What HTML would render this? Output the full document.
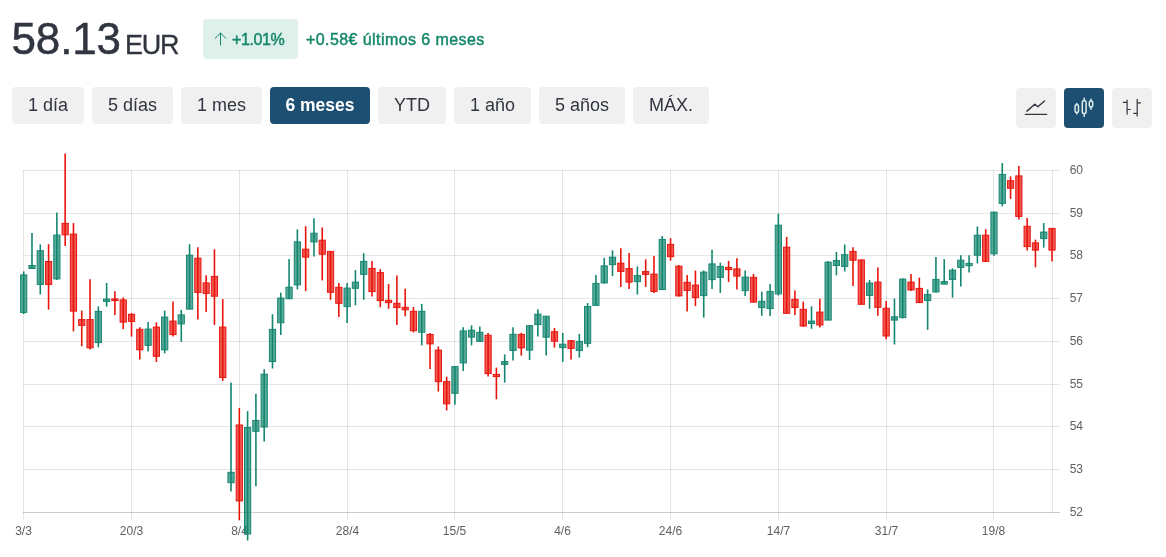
<!DOCTYPE html>
<html lang="es">
<head>
<meta charset="utf-8">
<title>58.13 EUR</title>
<style>
html,body{margin:0;padding:0;background:#fff;}
body{width:1166px;height:557px;position:relative;overflow:hidden;font-family:"Liberation Sans",Arial,sans-serif;color:#2f3540;}
#chart{position:absolute;left:0;top:0;}
.price{position:absolute;left:11.6px;top:14px;font-size:44px;line-height:50px;letter-spacing:-0.2px;color:#30353f;white-space:nowrap;-webkit-text-stroke:0.5px #30353f;}
.cur{position:absolute;left:125px;top:30px;font-size:27px;line-height:30px;letter-spacing:-1.2px;color:#30353f;-webkit-text-stroke:0.3px #30353f;}
.badge{position:absolute;left:203px;top:19px;width:95px;height:40px;border-radius:4px;background:#dff0eb;color:#15876a;font-size:16px;line-height:42px;-webkit-text-stroke:0.45px #15876a;}
.badge span{position:absolute;left:29px;top:0;letter-spacing:-0.4px;}
.badge svg{position:absolute;left:11px;top:13px;}
.delta{position:absolute;left:306px;top:19px;font-size:16px;line-height:42px;letter-spacing:0.42px;color:#15876a;white-space:nowrap;-webkit-text-stroke:0.45px #15876a;}
.btn{position:absolute;top:87px;height:37px;border-radius:4px;background:#f0f0f0;color:#30353f;font-size:18px;line-height:37px;text-align:center;white-space:nowrap;}
.btn.on{background:#1d4f73;color:#fff;font-weight:bold;font-size:17.5px;}
.ib{position:absolute;top:88px;width:40px;height:40px;border-radius:4px;background:#f0f0f0;}
.ib.on{background:#1d4f73;}
</style>
</head>
<body>
<svg id="chart" width="1166" height="557" viewBox="0 0 1166 557">
<g stroke="rgba(0,0,0,0.1)" stroke-width="1" fill="none" shape-rendering="crispEdges">
<line x1="23" y1="170.5" x2="1060" y2="170.5"/>
<line x1="23" y1="213.5" x2="1060" y2="213.5"/>
<line x1="23" y1="255.5" x2="1060" y2="255.5"/>
<line x1="23" y1="298.5" x2="1060" y2="298.5"/>
<line x1="23" y1="341.5" x2="1060" y2="341.5"/>
<line x1="23" y1="384.5" x2="1060" y2="384.5"/>
<line x1="23" y1="426.5" x2="1060" y2="426.5"/>
<line x1="23" y1="469.5" x2="1060" y2="469.5"/>
<line x1="23.5" y1="170" x2="23.5" y2="520"/>
<line x1="131.5" y1="170" x2="131.5" y2="520"/>
<line x1="239.5" y1="170" x2="239.5" y2="520"/>
<line x1="347.5" y1="170" x2="347.5" y2="520"/>
<line x1="454.5" y1="170" x2="454.5" y2="520"/>
<line x1="562.5" y1="170" x2="562.5" y2="520"/>
<line x1="670.5" y1="170" x2="670.5" y2="520"/>
<line x1="778.5" y1="170" x2="778.5" y2="520"/>
<line x1="886.5" y1="170" x2="886.5" y2="520"/>
<line x1="993.5" y1="170" x2="993.5" y2="520"/>
<line x1="1052.5" y1="170" x2="1052.5" y2="513"/>
</g>
<line x1="23" y1="512.5" x2="1060" y2="512.5" stroke="rgba(0,0,0,0.2)" stroke-width="1" shape-rendering="crispEdges"/>
<g font-family="'Liberation Sans', Arial, sans-serif" font-size="12" fill="#606060">
<text x="23.5" y="534.8" text-anchor="middle">3/3</text>
<text x="131.5" y="534.8" text-anchor="middle">20/3</text>
<text x="239.5" y="534.8" text-anchor="middle">8/4</text>
<text x="347.5" y="534.8" text-anchor="middle">28/4</text>
<text x="454.5" y="534.8" text-anchor="middle">15/5</text>
<text x="562.5" y="534.8" text-anchor="middle">4/6</text>
<text x="670.5" y="534.8" text-anchor="middle">24/6</text>
<text x="778.5" y="534.8" text-anchor="middle">14/7</text>
<text x="886.5" y="534.8" text-anchor="middle">31/7</text>
<text x="993.5" y="534.8" text-anchor="middle">19/8</text>
<text x="1069.7" y="174.1">60</text>
<text x="1069.7" y="217.1">59</text>
<text x="1069.7" y="259.1">58</text>
<text x="1069.7" y="302.1">57</text>
<text x="1069.7" y="345.1">56</text>
<text x="1069.7" y="388.1">55</text>
<text x="1069.7" y="430.1">54</text>
<text x="1069.7" y="473.1">53</text>
<text x="1069.7" y="516.1">52</text>
</g>
<line x1="23.70" y1="271.4" x2="23.70" y2="314.1" stroke="#148670" stroke-width="1.6"/>
<rect x="20.60" y="274.9" width="6.2" height="37.5" fill="rgba(20,134,112,0.71)" stroke="#148670" stroke-width="1"/>
<line x1="31.99" y1="233.1" x2="31.99" y2="268.5" stroke="#148670" stroke-width="1.6"/>
<rect x="28.89" y="265.5" width="6.2" height="3.0" fill="rgba(20,134,112,0.71)" stroke="#148670" stroke-width="1"/>
<line x1="40.29" y1="244.4" x2="40.29" y2="294.4" stroke="#148670" stroke-width="1.6"/>
<rect x="37.19" y="250.7" width="6.2" height="33.7" fill="rgba(20,134,112,0.71)" stroke="#148670" stroke-width="1"/>
<line x1="48.58" y1="244.2" x2="48.58" y2="309.6" stroke="#e8140c" stroke-width="1.6"/>
<rect x="45.48" y="261.5" width="6.2" height="22.9" fill="rgba(232,20,12,0.7)" stroke="#e8140c" stroke-width="1"/>
<line x1="56.87" y1="212.4" x2="56.87" y2="279.9" stroke="#148670" stroke-width="1.6"/>
<rect x="53.77" y="235.1" width="6.2" height="43.8" fill="rgba(20,134,112,0.71)" stroke="#148670" stroke-width="1"/>
<line x1="65.16" y1="153.5" x2="65.16" y2="246.1" stroke="#e8140c" stroke-width="1.6"/>
<rect x="62.06" y="223.4" width="6.2" height="11.4" fill="rgba(232,20,12,0.7)" stroke="#e8140c" stroke-width="1"/>
<line x1="73.46" y1="223.1" x2="73.46" y2="331.3" stroke="#e8140c" stroke-width="1.6"/>
<rect x="70.36" y="234.1" width="6.2" height="77.0" fill="rgba(232,20,12,0.7)" stroke="#e8140c" stroke-width="1"/>
<line x1="81.75" y1="310.6" x2="81.75" y2="346.3" stroke="#e8140c" stroke-width="1.6"/>
<rect x="78.65" y="319.6" width="6.2" height="5.8" fill="rgba(232,20,12,0.7)" stroke="#e8140c" stroke-width="1"/>
<line x1="90.04" y1="279.2" x2="90.04" y2="349.6" stroke="#e8140c" stroke-width="1.6"/>
<rect x="86.94" y="319.6" width="6.2" height="28.2" fill="rgba(232,20,12,0.7)" stroke="#e8140c" stroke-width="1"/>
<line x1="98.34" y1="306.4" x2="98.34" y2="347.3" stroke="#148670" stroke-width="1.6"/>
<rect x="95.24" y="311.4" width="6.2" height="31.2" fill="rgba(20,134,112,0.71)" stroke="#148670" stroke-width="1"/>
<line x1="106.63" y1="282.9" x2="106.63" y2="306.6" stroke="#148670" stroke-width="1.6"/>
<rect x="103.53" y="299.1" width="6.2" height="2.3" fill="rgba(20,134,112,0.71)" stroke="#148670" stroke-width="1"/>
<line x1="114.92" y1="291.2" x2="114.92" y2="314.9" stroke="#e8140c" stroke-width="1.6"/>
<rect x="111.82" y="298.9" width="6.2" height="1.7" fill="rgba(232,20,12,0.7)" stroke="#e8140c" stroke-width="1"/>
<line x1="123.22" y1="297.4" x2="123.22" y2="329.1" stroke="#e8140c" stroke-width="1.6"/>
<rect x="120.12" y="299.9" width="6.2" height="22.2" fill="rgba(232,20,12,0.7)" stroke="#e8140c" stroke-width="1"/>
<line x1="131.51" y1="312.9" x2="131.51" y2="336.6" stroke="#e8140c" stroke-width="1.6"/>
<rect x="128.41" y="314.4" width="6.2" height="7.0" fill="rgba(232,20,12,0.7)" stroke="#e8140c" stroke-width="1"/>
<line x1="139.80" y1="327.3" x2="139.80" y2="359.5" stroke="#e8140c" stroke-width="1.6"/>
<rect x="136.70" y="329.3" width="6.2" height="20.5" fill="rgba(232,20,12,0.7)" stroke="#e8140c" stroke-width="1"/>
<line x1="148.09" y1="321.9" x2="148.09" y2="351.6" stroke="#148670" stroke-width="1.6"/>
<rect x="144.99" y="329.1" width="6.2" height="16.2" fill="rgba(20,134,112,0.71)" stroke="#148670" stroke-width="1"/>
<line x1="156.39" y1="322.4" x2="156.39" y2="362.0" stroke="#e8140c" stroke-width="1.6"/>
<rect x="153.29" y="327.1" width="6.2" height="29.2" fill="rgba(232,20,12,0.7)" stroke="#e8140c" stroke-width="1"/>
<line x1="164.68" y1="310.6" x2="164.68" y2="353.3" stroke="#148670" stroke-width="1.6"/>
<rect x="161.58" y="317.1" width="6.2" height="32.7" fill="rgba(20,134,112,0.71)" stroke="#148670" stroke-width="1"/>
<line x1="172.97" y1="301.6" x2="172.97" y2="336.6" stroke="#e8140c" stroke-width="1.6"/>
<rect x="169.87" y="321.1" width="6.2" height="13.5" fill="rgba(232,20,12,0.7)" stroke="#e8140c" stroke-width="1"/>
<line x1="181.27" y1="309.9" x2="181.27" y2="341.8" stroke="#148670" stroke-width="1.6"/>
<rect x="178.17" y="314.9" width="6.2" height="9.0" fill="rgba(20,134,112,0.71)" stroke="#148670" stroke-width="1"/>
<line x1="189.56" y1="244.2" x2="189.56" y2="309.1" stroke="#148670" stroke-width="1.6"/>
<rect x="186.46" y="255.2" width="6.2" height="53.9" fill="rgba(20,134,112,0.71)" stroke="#148670" stroke-width="1"/>
<line x1="197.85" y1="247.2" x2="197.85" y2="319.6" stroke="#e8140c" stroke-width="1.6"/>
<rect x="194.75" y="258.2" width="6.2" height="34.2" fill="rgba(232,20,12,0.7)" stroke="#e8140c" stroke-width="1"/>
<line x1="206.15" y1="275.2" x2="206.15" y2="312.1" stroke="#e8140c" stroke-width="1.6"/>
<rect x="203.05" y="282.9" width="6.2" height="10.5" fill="rgba(232,20,12,0.7)" stroke="#e8140c" stroke-width="1"/>
<line x1="214.44" y1="249.2" x2="214.44" y2="324.9" stroke="#e8140c" stroke-width="1.6"/>
<rect x="211.34" y="276.4" width="6.2" height="19.8" fill="rgba(232,20,12,0.7)" stroke="#e8140c" stroke-width="1"/>
<line x1="222.73" y1="299.1" x2="222.73" y2="380.9" stroke="#e8140c" stroke-width="1.6"/>
<rect x="219.63" y="327.1" width="6.2" height="50.4" fill="rgba(232,20,12,0.7)" stroke="#e8140c" stroke-width="1"/>
<line x1="231.02" y1="382.4" x2="231.02" y2="491.6" stroke="#148670" stroke-width="1.6"/>
<rect x="227.92" y="472.3" width="6.2" height="10.4" fill="rgba(20,134,112,0.71)" stroke="#148670" stroke-width="1"/>
<line x1="239.32" y1="408.1" x2="239.32" y2="520.3" stroke="#e8140c" stroke-width="1.6"/>
<rect x="236.22" y="425.0" width="6.2" height="75.9" fill="rgba(232,20,12,0.7)" stroke="#e8140c" stroke-width="1"/>
<line x1="247.61" y1="411.1" x2="247.61" y2="540.5" stroke="#148670" stroke-width="1.6"/>
<rect x="244.51" y="427.5" width="6.2" height="106.5" fill="rgba(20,134,112,0.71)" stroke="#148670" stroke-width="1"/>
<line x1="255.90" y1="393.7" x2="255.90" y2="486.3" stroke="#148670" stroke-width="1.6"/>
<rect x="252.80" y="420.4" width="6.2" height="10.9" fill="rgba(20,134,112,0.71)" stroke="#148670" stroke-width="1"/>
<line x1="264.20" y1="369.2" x2="264.20" y2="441.6" stroke="#148670" stroke-width="1.6"/>
<rect x="261.10" y="374.2" width="6.2" height="52.8" fill="rgba(20,134,112,0.71)" stroke="#148670" stroke-width="1"/>
<line x1="272.49" y1="314.2" x2="272.49" y2="368.5" stroke="#148670" stroke-width="1.6"/>
<rect x="269.39" y="329.4" width="6.2" height="32.1" fill="rgba(20,134,112,0.71)" stroke="#148670" stroke-width="1"/>
<line x1="280.78" y1="292.6" x2="280.78" y2="335.0" stroke="#148670" stroke-width="1.6"/>
<rect x="277.68" y="298.0" width="6.2" height="24.8" fill="rgba(20,134,112,0.71)" stroke="#148670" stroke-width="1"/>
<line x1="289.08" y1="259.1" x2="289.08" y2="299.3" stroke="#148670" stroke-width="1.6"/>
<rect x="285.98" y="287.2" width="6.2" height="11.5" fill="rgba(20,134,112,0.71)" stroke="#148670" stroke-width="1"/>
<line x1="297.37" y1="229.4" x2="297.37" y2="289.3" stroke="#148670" stroke-width="1.6"/>
<rect x="294.27" y="241.9" width="6.2" height="43.0" fill="rgba(20,134,112,0.71)" stroke="#148670" stroke-width="1"/>
<line x1="305.66" y1="226.2" x2="305.66" y2="291.1" stroke="#e8140c" stroke-width="1.6"/>
<rect x="302.56" y="249.2" width="6.2" height="7.9" fill="rgba(232,20,12,0.7)" stroke="#e8140c" stroke-width="1"/>
<line x1="313.95" y1="218.2" x2="313.95" y2="256.4" stroke="#148670" stroke-width="1.6"/>
<rect x="310.85" y="233.2" width="6.2" height="8.7" fill="rgba(20,134,112,0.71)" stroke="#148670" stroke-width="1"/>
<line x1="322.25" y1="227.5" x2="322.25" y2="280.4" stroke="#e8140c" stroke-width="1.6"/>
<rect x="319.15" y="240.2" width="6.2" height="14.0" fill="rgba(232,20,12,0.7)" stroke="#e8140c" stroke-width="1"/>
<line x1="330.54" y1="251.4" x2="330.54" y2="299.8" stroke="#e8140c" stroke-width="1.6"/>
<rect x="327.44" y="251.4" width="6.2" height="40.9" fill="rgba(232,20,12,0.7)" stroke="#e8140c" stroke-width="1"/>
<line x1="338.83" y1="283.1" x2="338.83" y2="317.0" stroke="#e8140c" stroke-width="1.6"/>
<rect x="335.73" y="287.3" width="6.2" height="16.0" fill="rgba(232,20,12,0.7)" stroke="#e8140c" stroke-width="1"/>
<line x1="347.13" y1="282.9" x2="347.13" y2="323.0" stroke="#148670" stroke-width="1.6"/>
<rect x="344.03" y="288.1" width="6.2" height="18.5" fill="rgba(20,134,112,0.71)" stroke="#148670" stroke-width="1"/>
<line x1="355.42" y1="270.1" x2="355.42" y2="305.3" stroke="#148670" stroke-width="1.6"/>
<rect x="352.32" y="282.1" width="6.2" height="6.2" fill="rgba(20,134,112,0.71)" stroke="#148670" stroke-width="1"/>
<line x1="363.71" y1="253.2" x2="363.71" y2="299.8" stroke="#148670" stroke-width="1.6"/>
<rect x="360.61" y="261.4" width="6.2" height="13.0" fill="rgba(20,134,112,0.71)" stroke="#148670" stroke-width="1"/>
<line x1="372.01" y1="261.1" x2="372.01" y2="296.6" stroke="#e8140c" stroke-width="1.6"/>
<rect x="368.91" y="268.4" width="6.2" height="23.2" fill="rgba(232,20,12,0.7)" stroke="#e8140c" stroke-width="1"/>
<line x1="380.30" y1="269.1" x2="380.30" y2="307.3" stroke="#e8140c" stroke-width="1.6"/>
<rect x="377.20" y="272.6" width="6.2" height="28.0" fill="rgba(232,20,12,0.7)" stroke="#e8140c" stroke-width="1"/>
<line x1="388.59" y1="283.9" x2="388.59" y2="308.8" stroke="#e8140c" stroke-width="1.6"/>
<rect x="385.49" y="300.3" width="6.2" height="2.3" fill="rgba(232,20,12,0.7)" stroke="#e8140c" stroke-width="1"/>
<line x1="396.88" y1="275.4" x2="396.88" y2="325.0" stroke="#e8140c" stroke-width="1.6"/>
<rect x="393.78" y="303.3" width="6.2" height="4.3" fill="rgba(232,20,12,0.7)" stroke="#e8140c" stroke-width="1"/>
<line x1="405.18" y1="288.8" x2="405.18" y2="316.3" stroke="#e8140c" stroke-width="1.6"/>
<rect x="402.08" y="307.3" width="6.2" height="2.5" fill="rgba(232,20,12,0.7)" stroke="#e8140c" stroke-width="1"/>
<line x1="413.47" y1="306.9" x2="413.47" y2="332.4" stroke="#e8140c" stroke-width="1.6"/>
<rect x="410.37" y="311.3" width="6.2" height="19.4" fill="rgba(232,20,12,0.7)" stroke="#e8140c" stroke-width="1"/>
<line x1="421.76" y1="303.9" x2="421.76" y2="345.4" stroke="#148670" stroke-width="1.6"/>
<rect x="418.66" y="311.3" width="6.2" height="20.9" fill="rgba(20,134,112,0.71)" stroke="#148670" stroke-width="1"/>
<line x1="430.06" y1="333.0" x2="430.06" y2="368.9" stroke="#e8140c" stroke-width="1.6"/>
<rect x="426.96" y="334.5" width="6.2" height="9.4" fill="rgba(232,20,12,0.7)" stroke="#e8140c" stroke-width="1"/>
<line x1="438.35" y1="346.4" x2="438.35" y2="391.6" stroke="#e8140c" stroke-width="1.6"/>
<rect x="435.25" y="350.1" width="6.2" height="31.5" fill="rgba(232,20,12,0.7)" stroke="#e8140c" stroke-width="1"/>
<line x1="446.64" y1="376.6" x2="446.64" y2="410.5" stroke="#e8140c" stroke-width="1.6"/>
<rect x="443.54" y="381.6" width="6.2" height="22.2" fill="rgba(232,20,12,0.7)" stroke="#e8140c" stroke-width="1"/>
<line x1="454.94" y1="366.6" x2="454.94" y2="404.8" stroke="#148670" stroke-width="1.6"/>
<rect x="451.84" y="366.6" width="6.2" height="26.7" fill="rgba(20,134,112,0.71)" stroke="#148670" stroke-width="1"/>
<line x1="463.23" y1="327.2" x2="463.23" y2="371.1" stroke="#148670" stroke-width="1.6"/>
<rect x="460.13" y="330.9" width="6.2" height="32.0" fill="rgba(20,134,112,0.71)" stroke="#148670" stroke-width="1"/>
<line x1="471.52" y1="325.4" x2="471.52" y2="345.4" stroke="#148670" stroke-width="1.6"/>
<rect x="468.42" y="330.2" width="6.2" height="6.9" fill="rgba(20,134,112,0.71)" stroke="#148670" stroke-width="1"/>
<line x1="479.81" y1="326.4" x2="479.81" y2="341.4" stroke="#148670" stroke-width="1.6"/>
<rect x="476.71" y="332.3" width="6.2" height="9.1" fill="rgba(20,134,112,0.71)" stroke="#148670" stroke-width="1"/>
<line x1="488.11" y1="333.0" x2="488.11" y2="376.6" stroke="#e8140c" stroke-width="1.6"/>
<rect x="485.01" y="335.3" width="6.2" height="38.3" fill="rgba(232,20,12,0.7)" stroke="#e8140c" stroke-width="1"/>
<line x1="496.40" y1="367.6" x2="496.40" y2="399.3" stroke="#e8140c" stroke-width="1.6"/>
<rect x="493.30" y="374.4" width="6.2" height="2.2" fill="rgba(232,20,12,0.7)" stroke="#e8140c" stroke-width="1"/>
<line x1="504.69" y1="354.4" x2="504.69" y2="382.6" stroke="#148670" stroke-width="1.6"/>
<rect x="501.59" y="361.6" width="6.2" height="2.8" fill="rgba(20,134,112,0.71)" stroke="#148670" stroke-width="1"/>
<line x1="512.99" y1="327.2" x2="512.99" y2="360.6" stroke="#148670" stroke-width="1.6"/>
<rect x="509.89" y="334.3" width="6.2" height="16.1" fill="rgba(20,134,112,0.71)" stroke="#148670" stroke-width="1"/>
<line x1="521.28" y1="332.9" x2="521.28" y2="355.6" stroke="#e8140c" stroke-width="1.6"/>
<rect x="518.18" y="334.4" width="6.2" height="13.5" fill="rgba(232,20,12,0.7)" stroke="#e8140c" stroke-width="1"/>
<line x1="529.57" y1="325.7" x2="529.57" y2="359.9" stroke="#148670" stroke-width="1.6"/>
<rect x="526.47" y="325.7" width="6.2" height="24.4" fill="rgba(20,134,112,0.71)" stroke="#148670" stroke-width="1"/>
<line x1="537.87" y1="309.2" x2="537.87" y2="336.4" stroke="#148670" stroke-width="1.6"/>
<rect x="534.77" y="314.2" width="6.2" height="10.4" fill="rgba(20,134,112,0.71)" stroke="#148670" stroke-width="1"/>
<line x1="546.16" y1="316.2" x2="546.16" y2="355.6" stroke="#148670" stroke-width="1.6"/>
<rect x="543.06" y="316.2" width="6.2" height="21.0" fill="rgba(20,134,112,0.71)" stroke="#148670" stroke-width="1"/>
<line x1="554.45" y1="327.9" x2="554.45" y2="347.6" stroke="#e8140c" stroke-width="1.6"/>
<rect x="551.35" y="331.7" width="6.2" height="9.5" fill="rgba(232,20,12,0.7)" stroke="#e8140c" stroke-width="1"/>
<line x1="562.75" y1="332.9" x2="562.75" y2="361.9" stroke="#148670" stroke-width="1.6"/>
<rect x="559.64" y="344.2" width="6.2" height="3.4" fill="rgba(20,134,112,0.71)" stroke="#148670" stroke-width="1"/>
<line x1="571.04" y1="339.9" x2="571.04" y2="359.6" stroke="#e8140c" stroke-width="1.6"/>
<rect x="567.94" y="340.7" width="6.2" height="7.7" fill="rgba(232,20,12,0.7)" stroke="#e8140c" stroke-width="1"/>
<line x1="579.33" y1="333.9" x2="579.33" y2="357.6" stroke="#148670" stroke-width="1.6"/>
<rect x="576.23" y="341.4" width="6.2" height="9.0" fill="rgba(20,134,112,0.71)" stroke="#148670" stroke-width="1"/>
<line x1="587.62" y1="303.1" x2="587.62" y2="347.2" stroke="#148670" stroke-width="1.6"/>
<rect x="584.52" y="306.5" width="6.2" height="36.8" fill="rgba(20,134,112,0.71)" stroke="#148670" stroke-width="1"/>
<line x1="595.92" y1="275.1" x2="595.92" y2="305.4" stroke="#148670" stroke-width="1.6"/>
<rect x="592.82" y="283.4" width="6.2" height="22.0" fill="rgba(20,134,112,0.71)" stroke="#148670" stroke-width="1"/>
<line x1="604.21" y1="257.9" x2="604.21" y2="283.6" stroke="#148670" stroke-width="1.6"/>
<rect x="601.11" y="265.9" width="6.2" height="17.0" fill="rgba(20,134,112,0.71)" stroke="#148670" stroke-width="1"/>
<line x1="612.50" y1="250.4" x2="612.50" y2="276.1" stroke="#148670" stroke-width="1.6"/>
<rect x="609.40" y="257.2" width="6.2" height="7.5" fill="rgba(20,134,112,0.71)" stroke="#148670" stroke-width="1"/>
<line x1="620.80" y1="248.2" x2="620.80" y2="286.9" stroke="#e8140c" stroke-width="1.6"/>
<rect x="617.70" y="263.2" width="6.2" height="8.2" fill="rgba(232,20,12,0.7)" stroke="#e8140c" stroke-width="1"/>
<line x1="629.09" y1="252.9" x2="629.09" y2="288.9" stroke="#e8140c" stroke-width="1.6"/>
<rect x="625.99" y="268.6" width="6.2" height="13.5" fill="rgba(232,20,12,0.7)" stroke="#e8140c" stroke-width="1"/>
<line x1="637.38" y1="266.4" x2="637.38" y2="294.6" stroke="#148670" stroke-width="1.6"/>
<rect x="634.28" y="275.6" width="6.2" height="6.0" fill="rgba(20,134,112,0.71)" stroke="#148670" stroke-width="1"/>
<line x1="645.67" y1="259.4" x2="645.67" y2="286.9" stroke="#e8140c" stroke-width="1.6"/>
<rect x="642.57" y="271.6" width="6.2" height="2.8" fill="rgba(232,20,12,0.7)" stroke="#e8140c" stroke-width="1"/>
<line x1="653.97" y1="255.9" x2="653.97" y2="292.9" stroke="#e8140c" stroke-width="1.6"/>
<rect x="650.87" y="274.1" width="6.2" height="17.3" fill="rgba(232,20,12,0.7)" stroke="#e8140c" stroke-width="1"/>
<line x1="662.26" y1="236.0" x2="662.26" y2="289.6" stroke="#148670" stroke-width="1.6"/>
<rect x="659.16" y="239.4" width="6.2" height="50.2" fill="rgba(20,134,112,0.71)" stroke="#148670" stroke-width="1"/>
<line x1="670.55" y1="238.2" x2="670.55" y2="260.7" stroke="#e8140c" stroke-width="1.6"/>
<rect x="667.45" y="244.4" width="6.2" height="12.3" fill="rgba(232,20,12,0.7)" stroke="#e8140c" stroke-width="1"/>
<line x1="678.85" y1="264.9" x2="678.85" y2="296.4" stroke="#e8140c" stroke-width="1.6"/>
<rect x="675.75" y="266.2" width="6.2" height="29.7" fill="rgba(232,20,12,0.7)" stroke="#e8140c" stroke-width="1"/>
<line x1="687.14" y1="274.9" x2="687.14" y2="311.6" stroke="#e8140c" stroke-width="1.6"/>
<rect x="684.04" y="282.4" width="6.2" height="8.0" fill="rgba(232,20,12,0.7)" stroke="#e8140c" stroke-width="1"/>
<line x1="695.43" y1="270.6" x2="695.43" y2="306.1" stroke="#e8140c" stroke-width="1.6"/>
<rect x="692.33" y="285.1" width="6.2" height="12.5" fill="rgba(232,20,12,0.7)" stroke="#e8140c" stroke-width="1"/>
<line x1="703.73" y1="270.4" x2="703.73" y2="317.6" stroke="#148670" stroke-width="1.6"/>
<rect x="700.63" y="272.1" width="6.2" height="23.5" fill="rgba(20,134,112,0.71)" stroke="#148670" stroke-width="1"/>
<line x1="712.02" y1="249.7" x2="712.02" y2="288.9" stroke="#148670" stroke-width="1.6"/>
<rect x="708.92" y="263.9" width="6.2" height="15.7" fill="rgba(20,134,112,0.71)" stroke="#148670" stroke-width="1"/>
<line x1="720.31" y1="262.7" x2="720.31" y2="292.9" stroke="#148670" stroke-width="1.6"/>
<rect x="717.21" y="266.4" width="6.2" height="11.0" fill="rgba(20,134,112,0.71)" stroke="#148670" stroke-width="1"/>
<line x1="728.61" y1="260.9" x2="728.61" y2="281.9" stroke="#e8140c" stroke-width="1.6"/>
<rect x="725.50" y="267.4" width="6.2" height="2.2" fill="rgba(232,20,12,0.7)" stroke="#e8140c" stroke-width="1"/>
<line x1="736.90" y1="258.2" x2="736.90" y2="289.6" stroke="#e8140c" stroke-width="1.6"/>
<rect x="733.80" y="268.9" width="6.2" height="7.2" fill="rgba(232,20,12,0.7)" stroke="#e8140c" stroke-width="1"/>
<line x1="745.19" y1="270.6" x2="745.19" y2="295.9" stroke="#148670" stroke-width="1.6"/>
<rect x="742.09" y="277.1" width="6.2" height="13.5" fill="rgba(20,134,112,0.71)" stroke="#148670" stroke-width="1"/>
<line x1="753.48" y1="273.9" x2="753.48" y2="302.6" stroke="#e8140c" stroke-width="1.6"/>
<rect x="750.38" y="277.4" width="6.2" height="24.7" fill="rgba(232,20,12,0.7)" stroke="#e8140c" stroke-width="1"/>
<line x1="761.78" y1="291.6" x2="761.78" y2="315.8" stroke="#148670" stroke-width="1.6"/>
<rect x="758.68" y="301.3" width="6.2" height="6.3" fill="rgba(20,134,112,0.71)" stroke="#148670" stroke-width="1"/>
<line x1="770.07" y1="283.9" x2="770.07" y2="316.1" stroke="#148670" stroke-width="1.6"/>
<rect x="766.97" y="291.4" width="6.2" height="17.2" fill="rgba(20,134,112,0.71)" stroke="#148670" stroke-width="1"/>
<line x1="778.36" y1="213.7" x2="778.36" y2="295.6" stroke="#148670" stroke-width="1.6"/>
<rect x="775.26" y="225.2" width="6.2" height="68.7" fill="rgba(20,134,112,0.71)" stroke="#148670" stroke-width="1"/>
<line x1="786.66" y1="237.0" x2="786.66" y2="313.3" stroke="#e8140c" stroke-width="1.6"/>
<rect x="783.56" y="247.2" width="6.2" height="66.1" fill="rgba(232,20,12,0.7)" stroke="#e8140c" stroke-width="1"/>
<line x1="794.95" y1="290.4" x2="794.95" y2="315.1" stroke="#e8140c" stroke-width="1.6"/>
<rect x="791.85" y="299.3" width="6.2" height="8.3" fill="rgba(232,20,12,0.7)" stroke="#e8140c" stroke-width="1"/>
<line x1="803.24" y1="301.6" x2="803.24" y2="326.8" stroke="#e8140c" stroke-width="1.6"/>
<rect x="800.14" y="309.3" width="6.2" height="16.7" fill="rgba(232,20,12,0.7)" stroke="#e8140c" stroke-width="1"/>
<line x1="811.53" y1="306.3" x2="811.53" y2="328.8" stroke="#148670" stroke-width="1.6"/>
<rect x="808.43" y="321.1" width="6.2" height="2.4" fill="rgba(20,134,112,0.71)" stroke="#148670" stroke-width="1"/>
<line x1="819.83" y1="298.8" x2="819.83" y2="327.5" stroke="#e8140c" stroke-width="1.6"/>
<rect x="816.73" y="312.1" width="6.2" height="12.9" fill="rgba(232,20,12,0.7)" stroke="#e8140c" stroke-width="1"/>
<line x1="828.12" y1="260.9" x2="828.12" y2="320.1" stroke="#148670" stroke-width="1.6"/>
<rect x="825.02" y="262.2" width="6.2" height="57.9" fill="rgba(20,134,112,0.71)" stroke="#148670" stroke-width="1"/>
<line x1="836.41" y1="252.0" x2="836.41" y2="275.4" stroke="#148670" stroke-width="1.6"/>
<rect x="833.31" y="260.5" width="6.2" height="5.0" fill="rgba(20,134,112,0.71)" stroke="#148670" stroke-width="1"/>
<line x1="844.71" y1="244.5" x2="844.71" y2="271.4" stroke="#148670" stroke-width="1.6"/>
<rect x="841.61" y="254.7" width="6.2" height="11.7" fill="rgba(20,134,112,0.71)" stroke="#148670" stroke-width="1"/>
<line x1="853.00" y1="247.2" x2="853.00" y2="285.9" stroke="#e8140c" stroke-width="1.6"/>
<rect x="849.90" y="251.4" width="6.2" height="8.8" fill="rgba(232,20,12,0.7)" stroke="#e8140c" stroke-width="1"/>
<line x1="861.29" y1="259.9" x2="861.29" y2="304.3" stroke="#e8140c" stroke-width="1.6"/>
<rect x="858.19" y="259.9" width="6.2" height="44.4" fill="rgba(232,20,12,0.7)" stroke="#e8140c" stroke-width="1"/>
<line x1="869.59" y1="279.9" x2="869.59" y2="308.8" stroke="#148670" stroke-width="1.6"/>
<rect x="866.49" y="283.1" width="6.2" height="12.3" fill="rgba(20,134,112,0.71)" stroke="#148670" stroke-width="1"/>
<line x1="877.88" y1="267.4" x2="877.88" y2="315.8" stroke="#e8140c" stroke-width="1.6"/>
<rect x="874.78" y="282.1" width="6.2" height="25.2" fill="rgba(232,20,12,0.7)" stroke="#e8140c" stroke-width="1"/>
<line x1="886.17" y1="300.9" x2="886.17" y2="339.3" stroke="#e8140c" stroke-width="1.6"/>
<rect x="883.07" y="308.3" width="6.2" height="27.7" fill="rgba(232,20,12,0.7)" stroke="#e8140c" stroke-width="1"/>
<line x1="894.46" y1="298.6" x2="894.46" y2="344.5" stroke="#148670" stroke-width="1.6"/>
<rect x="891.36" y="316.8" width="6.2" height="3.3" fill="rgba(20,134,112,0.71)" stroke="#148670" stroke-width="1"/>
<line x1="902.76" y1="278.4" x2="902.76" y2="318.3" stroke="#148670" stroke-width="1.6"/>
<rect x="899.66" y="279.1" width="6.2" height="38.5" fill="rgba(20,134,112,0.71)" stroke="#148670" stroke-width="1"/>
<line x1="911.05" y1="273.9" x2="911.05" y2="291.1" stroke="#e8140c" stroke-width="1.6"/>
<rect x="907.95" y="282.1" width="6.2" height="7.8" fill="rgba(232,20,12,0.7)" stroke="#e8140c" stroke-width="1"/>
<line x1="919.34" y1="277.6" x2="919.34" y2="302.6" stroke="#e8140c" stroke-width="1.6"/>
<rect x="916.24" y="288.4" width="6.2" height="14.2" fill="rgba(232,20,12,0.7)" stroke="#e8140c" stroke-width="1"/>
<line x1="927.64" y1="289.4" x2="927.64" y2="329.8" stroke="#148670" stroke-width="1.6"/>
<rect x="924.54" y="294.6" width="6.2" height="6.0" fill="rgba(20,134,112,0.71)" stroke="#148670" stroke-width="1"/>
<line x1="935.93" y1="256.9" x2="935.93" y2="292.6" stroke="#148670" stroke-width="1.6"/>
<rect x="932.83" y="279.4" width="6.2" height="12.5" fill="rgba(20,134,112,0.71)" stroke="#148670" stroke-width="1"/>
<line x1="944.22" y1="259.2" x2="944.22" y2="284.1" stroke="#148670" stroke-width="1.6"/>
<rect x="941.12" y="281.6" width="6.2" height="2.5" fill="rgba(20,134,112,0.71)" stroke="#148670" stroke-width="1"/>
<line x1="952.52" y1="268.4" x2="952.52" y2="297.6" stroke="#148670" stroke-width="1.6"/>
<rect x="949.42" y="270.2" width="6.2" height="9.2" fill="rgba(20,134,112,0.71)" stroke="#148670" stroke-width="1"/>
<line x1="960.81" y1="255.2" x2="960.81" y2="286.6" stroke="#148670" stroke-width="1.6"/>
<rect x="957.71" y="260.2" width="6.2" height="7.2" fill="rgba(20,134,112,0.71)" stroke="#148670" stroke-width="1"/>
<line x1="969.10" y1="255.2" x2="969.10" y2="272.4" stroke="#148670" stroke-width="1.6"/>
<rect x="966.00" y="263.4" width="6.2" height="2.3" fill="rgba(20,134,112,0.71)" stroke="#148670" stroke-width="1"/>
<line x1="977.39" y1="226.5" x2="977.39" y2="263.4" stroke="#148670" stroke-width="1.6"/>
<rect x="974.29" y="235.2" width="6.2" height="20.0" fill="rgba(20,134,112,0.71)" stroke="#148670" stroke-width="1"/>
<line x1="985.69" y1="229.2" x2="985.69" y2="261.4" stroke="#e8140c" stroke-width="1.6"/>
<rect x="982.59" y="235.2" width="6.2" height="26.2" fill="rgba(232,20,12,0.7)" stroke="#e8140c" stroke-width="1"/>
<line x1="993.98" y1="212.1" x2="993.98" y2="255.8" stroke="#148670" stroke-width="1.6"/>
<rect x="990.88" y="212.1" width="6.2" height="41.7" fill="rgba(20,134,112,0.71)" stroke="#148670" stroke-width="1"/>
<line x1="1002.27" y1="163.0" x2="1002.27" y2="206.4" stroke="#148670" stroke-width="1.6"/>
<rect x="999.17" y="174.4" width="6.2" height="29.0" fill="rgba(20,134,112,0.71)" stroke="#148670" stroke-width="1"/>
<line x1="1010.57" y1="176.4" x2="1010.57" y2="198.9" stroke="#e8140c" stroke-width="1.6"/>
<rect x="1007.47" y="180.7" width="6.2" height="7.5" fill="rgba(232,20,12,0.7)" stroke="#e8140c" stroke-width="1"/>
<line x1="1018.86" y1="166.0" x2="1018.86" y2="219.6" stroke="#e8140c" stroke-width="1.6"/>
<rect x="1015.76" y="175.9" width="6.2" height="40.5" fill="rgba(232,20,12,0.7)" stroke="#e8140c" stroke-width="1"/>
<line x1="1027.15" y1="217.9" x2="1027.15" y2="250.5" stroke="#e8140c" stroke-width="1.6"/>
<rect x="1024.05" y="226.3" width="6.2" height="20.3" fill="rgba(232,20,12,0.7)" stroke="#e8140c" stroke-width="1"/>
<line x1="1035.45" y1="239.6" x2="1035.45" y2="267.3" stroke="#e8140c" stroke-width="1.6"/>
<rect x="1032.35" y="242.9" width="6.2" height="7.2" fill="rgba(232,20,12,0.7)" stroke="#e8140c" stroke-width="1"/>
<line x1="1043.74" y1="223.1" x2="1043.74" y2="247.6" stroke="#148670" stroke-width="1.6"/>
<rect x="1040.64" y="232.1" width="6.2" height="6.5" fill="rgba(20,134,112,0.71)" stroke="#148670" stroke-width="1"/>
<line x1="1052.03" y1="228.4" x2="1052.03" y2="261.5" stroke="#e8140c" stroke-width="1.6"/>
<rect x="1048.93" y="228.4" width="6.2" height="21.7" fill="rgba(232,20,12,0.7)" stroke="#e8140c" stroke-width="1"/>
</svg>
<div class="price">58.13</div>
<div class="cur">EUR</div>
<div class="badge"><svg width="13" height="14" viewBox="0 0 13 14" fill="none" stroke="#15876a" stroke-width="1" stroke-linecap="round" stroke-linejoin="round"><path d="M6.5 13V1.2M1.2 6.3L6.5 1l5.3 5.3"/></svg><span>+1.01%</span></div>
<div class="delta">+0.58€ últimos 6 meses</div>
<div class="btn" style="left:12px;width:72px;">1 día</div>
<div class="btn" style="left:92px;width:81px;">5 días</div>
<div class="btn" style="left:181px;width:81px;">1 mes</div>
<div class="btn on" style="left:270px;width:100px;">6 meses</div>
<div class="btn" style="left:378px;width:68px;">YTD</div>
<div class="btn" style="left:454px;width:77px;">1 año</div>
<div class="btn" style="left:539px;width:86px;">5 años</div>
<div class="btn" style="left:633px;width:76px;">MÁX.</div>
<div class="ib" style="left:1016px;"><svg width="40" height="40" viewBox="0 0 40 40" fill="none" stroke="#30353f" stroke-width="1.4" stroke-linecap="round" stroke-linejoin="round"><path d="M10.9 23.1l7.9-6.9 3.1 2.6 6.6-5.8M9.4 26.4h21.2"/></svg></div>
<div class="ib on" style="left:1064px;"><svg width="40" height="40" viewBox="0 0 40 40" fill="none" stroke="#dff0eb" stroke-width="1.5" stroke-linecap="round"><path d="M12.8 15.6v10.4M20.2 10.3v18M27 11.2v10.1"/><rect x="11.1" y="16.8" width="3.4" height="7.6" rx="1.5" fill="#1d4f73"/><rect x="18.3" y="12.8" width="3.8" height="12.6" rx="1.5" fill="#1d4f73"/><rect x="25.3" y="13.1" width="3.4" height="6" rx="1.5" fill="#1d4f73"/></svg></div>
<div class="ib" style="left:1112px;"><svg width="40" height="40" viewBox="0 0 40 40" fill="none" stroke="#30353f" stroke-width="1.2" stroke-linecap="butt"><path d="M15.1 11.7v15M10.8 14.4h4.3M15.1 21.5h3.6M25.2 11v17.5M25.2 14.9h3.7M21.4 25.3h3.8"/></svg></div>
</body>
</html>
